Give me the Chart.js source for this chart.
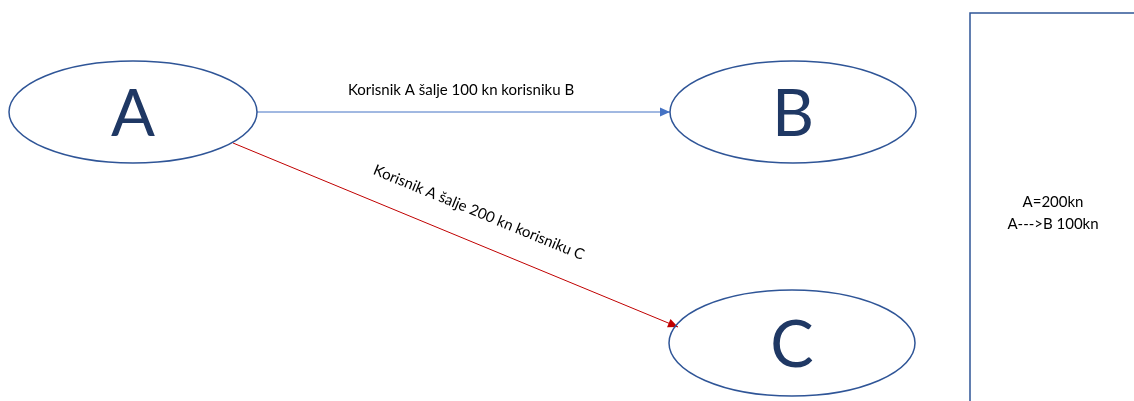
<!DOCTYPE html>
<html>
<head>
<meta charset="utf-8">
<script src="https://cdn.jsdelivr.net/npm/chart.js@4.4.1/dist/chart.umd.min.js"></script>
<style>
html,body{margin:0;padding:0;background:#fff;}
#wrap{width:1134px;height:401px;position:relative;}
</style>
</head>
<body>
<div id="wrap"><canvas id="c"></canvas></div>
<script>
// ---- data ----
const nodeLabels = ['A', 'B', 'C'];
const nodeX = [133, 793, 792];
const nodeY = [112, 112, 343];
const nodeRx = [124, 123, 123];
const nodeRy = [51, 51, 53];

const edgeLabels = ['Korisnik A šalje 100 kn korisniku B', 'Korisnik A šalje 200 kn korisniku C'];
const edgeStartX = [257, 233];
const edgeStartY = [112, 143];
const edgeEndX = [670, 678];
const edgeEndY = [112, 327];
const edgeColors = ['#4472C4', '#C00000'];

const noteLines = ['A=200kn', 'A--->B 100kn'];
const noteBoxX = [970, 970, 1140];
const noteBoxY = [420, 13, 13];

// ---- datasets ----
const datasets = [];
edgeLabels.forEach((lbl, i) => {
  datasets.push({
    type: 'line',
    label: lbl,
    data: [{x: edgeStartX[i], y: edgeStartY[i]}, {x: edgeEndX[i], y: edgeEndY[i]}],
    borderColor: edgeColors[i],
    borderWidth: 1,
    pointRadius: 0,
    tension: 0,
    arrow: true
  });
});
datasets.push({
  type: 'line',
  label: 'note',
  data: noteBoxX.map((x, i) => ({x: x, y: noteBoxY[i]})),
  borderColor: '#2F5597',
  borderWidth: 1.5,
  pointRadius: 0,
  tension: 0
});

const FONT = 'Lato, "Open Sans", sans-serif';

const diagramPlugin = {
  id: 'diagram',
  afterDatasetsDraw(chart) {
    const ctx = chart.ctx;
    const xs = chart.scales.x, ys = chart.scales.y;
    const px = v => xs.getPixelForValue(v);
    const py = v => ys.getPixelForValue(v);
    ctx.save();
    // arrowheads
    chart.data.datasets.forEach((ds) => {
      if (!ds.arrow) return;
      const a = ds.data[0], b = ds.data[ds.data.length - 1];
      const x1 = px(a.x), y1 = py(a.y), x2 = px(b.x), y2 = py(b.y);
      const ang = Math.atan2(y2 - y1, x2 - x1);
      const L = 10, W = 4.5;
      ctx.fillStyle = ds.borderColor;
      ctx.beginPath();
      ctx.moveTo(x2, y2);
      ctx.lineTo(x2 - L * Math.cos(ang) + W * Math.sin(ang), y2 - L * Math.sin(ang) - W * Math.cos(ang));
      ctx.lineTo(x2 - L * Math.cos(ang) - W * Math.sin(ang), y2 - L * Math.sin(ang) + W * Math.cos(ang));
      ctx.closePath();
      ctx.fill();
    });
    // ellipses + letters
    nodeLabels.forEach((n, i) => {
      const cx = px(nodeX[i]), cy = py(nodeY[i]);
      const rx = Math.abs(px(nodeX[i] + nodeRx[i]) - cx);
      const ry = Math.abs(py(nodeY[i] + nodeRy[i]) - cy);
      ctx.beginPath();
      ctx.ellipse(cx, cy, rx, ry, 0, 0, Math.PI * 2);
      ctx.strokeStyle = '#2F5597';
      ctx.lineWidth = 1.5;
      ctx.stroke();
      ctx.fillStyle = '#1F3864';
      ctx.font = '65px ' + FONT;
      ctx.textAlign = 'center';
      ctx.textBaseline = 'alphabetic';
      ctx.fillText(n, cx, cy + 24);
    });
    // edge labels
    ctx.fillStyle = '#000';
    ctx.font = '15px ' + FONT;
    ctx.textAlign = 'center';
    ctx.textBaseline = 'alphabetic';
    ctx.fillText(edgeLabels[0], px(461), py(95));
    ctx.save();
    ctx.translate(px(477), py(217));
    ctx.rotate(22.4 * Math.PI / 180);
    ctx.fillText(edgeLabels[1], 0, 0);
    ctx.restore();
    // note text
    ctx.font = '15px ' + FONT;
    noteLines.forEach((t, i) => {
      ctx.fillText(t, px(1053), py(207 + i * 22));
    });
    ctx.restore();
  }
};

new Chart(document.getElementById('c'), {
  type: 'scatter',
  data: { datasets: datasets },
  options: {
    responsive: true,
    maintainAspectRatio: false,
    animation: false,
    layout: { padding: 0 },
    plugins: { legend: { display: false }, tooltip: { enabled: false } },
    scales: {
      x: { type: 'linear', min: 0, max: 1134, display: false },
      y: { type: 'linear', min: 0, max: 401, reverse: true, display: false }
    },
    elements: { line: { borderCapStyle: 'butt' } }
  },
  plugins: [diagramPlugin]
});
</script>
</body>
</html>
